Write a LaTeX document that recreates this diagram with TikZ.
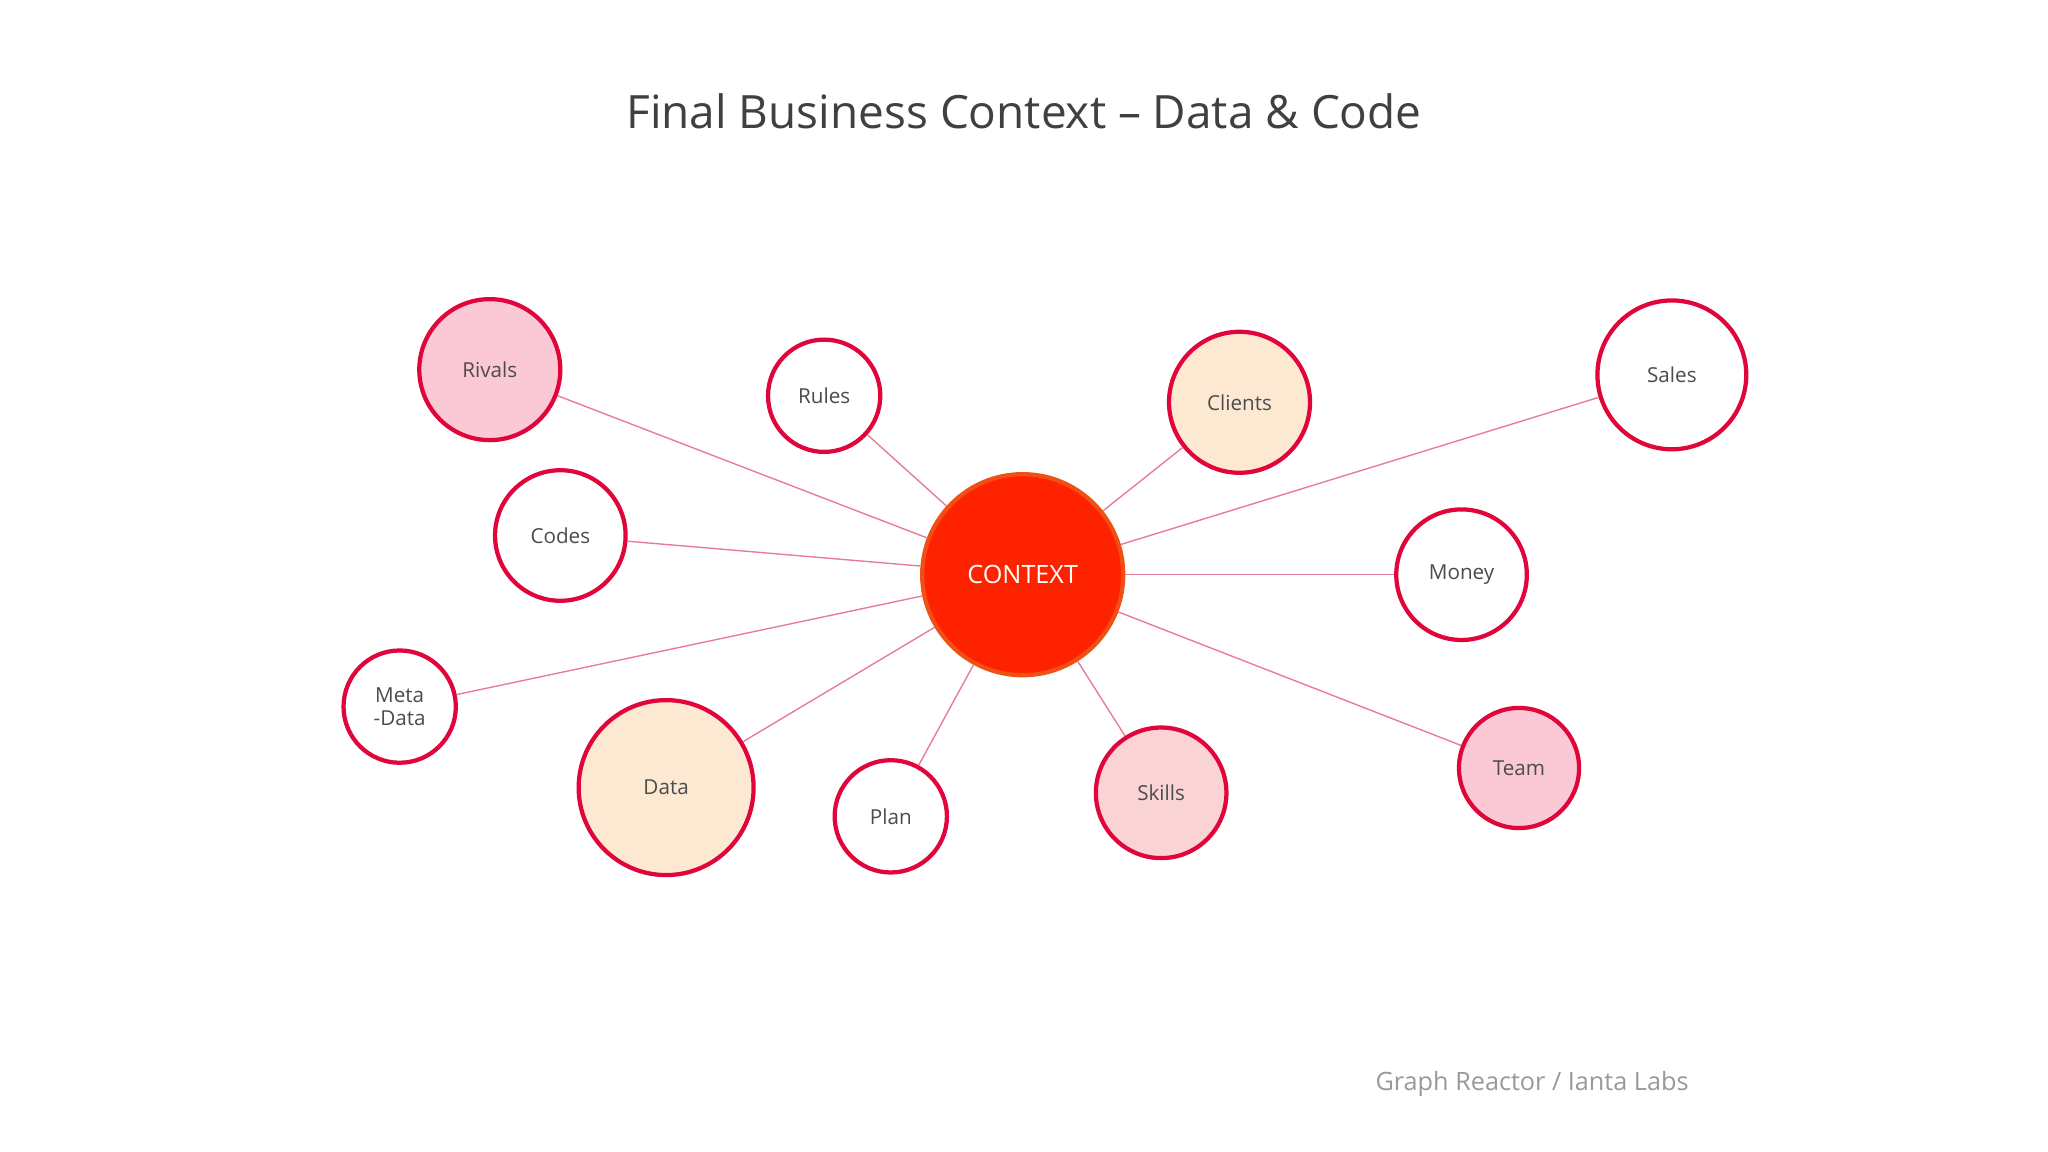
\documentclass[tikz,border=0pt]{standalone}
\usepackage{fontspec}
\setmainfont{Open Sans}
\begin{document}
\begin{tikzpicture}[x=0.02cm,y=-0.02cm,
  bub/.style={circle,draw=bord,line width=0.065cm,inner sep=0pt,minimum size=#1*0.04cm,font=\fontsize{9}{9}\selectfont,text=black!70,align=center},
  link/.style={draw=linkc,line width=0.6pt}]
\definecolor{bord}{HTML}{E0063C}
\definecolor{linkc}{HTML}{E87A9A}
\definecolor{pinkf}{HTML}{FBC8D6}
\definecolor{peach}{HTML}{FDE9D2}
\definecolor{skin}{HTML}{FAD4D4}
\definecolor{ctx}{HTML}{FF2200}
\useasboundingbox[fill=white] (0,0) rectangle (1568,882);
\node[font=\fontsize{20}{24}\selectfont, text=black!75] (title) at (784,85) {Final Business Context – Data \& Code};
\node[font=\fontsize{11}{13}\selectfont, text=black!40] (foot) at (1173,830) {Graph Reactor / Ianta Labs};
\node[bub=77,fill=ctx,draw={rgb,255:red,240;green,80;blue,20},text=white,font=\fontsize{11}{13}\selectfont] (c) at (783,440) {CONTEXT};
\node[bub=54,fill=pinkf] (rivals) at (375,283) {Rivals};
\node[bub=43,fill=white] (rules) at (631,303) {Rules};
\node[bub=54,fill=peach] (clients) at (949,308) {Clients};
\node[bub=57,fill=white] (sales) at (1280,287) {Sales};
\node[bub=50,fill=white] (codes) at (429,410) {Codes};
\node[bub=50,fill=white] (money) at (1119,440) {Money};
\node[bub=43,fill=white,font=\fontsize{9}{10}\selectfont] (meta) at (306,541) {Meta\\-Data};
\node[bub=67,fill=peach] (data) at (510,603) {Data};
\node[bub=43,fill=white] (plan) at (682,625) {Plan};
\node[bub=50,fill=skin] (skills) at (889,607) {Skills};
\node[bub=46,fill=pinkf] (team) at (1163,588) {Team};
\foreach \n in {rivals,rules,clients,sales,codes,money,meta,data,plan,skills,team}
  \draw[link] (c) -- (\n);
\end{tikzpicture}
\end{document}
